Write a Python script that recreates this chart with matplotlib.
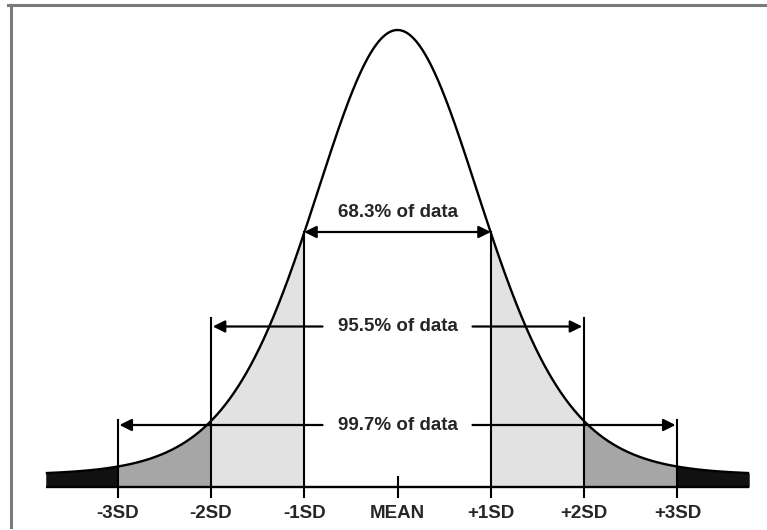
import numpy as np
import matplotlib
matplotlib.use("Agg")
import matplotlib.pyplot as plt
from matplotlib.lines import Line2D

# ---- data ----
sd_positions = [-3, -2, -1, 0, 1, 2, 3]
sd_labels = ["-3SD", "-2SD", "-1SD", "MEAN", "+1SD", "+2SD", "+3SD"]
range_widths = [1, 2, 3]
range_labels = ["68.3% of data", "95.5% of data", "99.7% of data"]
band_colors = ["white", "#e2e2e2", "#a6a6a6", "#111111"]

# curve shape (stylised bell curve)
NU, K, FLOOR = 10.0, 0.925, 0.026
X_END = 3.77


def bell(x):
    t = (1 + (x / K) ** 2 / NU) ** (-(NU + 1) / 2)
    return FLOOR + (1 - FLOOR) * t


W, H = 767, 530
fig = plt.figure(figsize=(W / 100, H / 100), dpi=100)
ax = fig.add_axes([0, 0, 1, 1])
# pixel geometry -> data limits
X0, SDPX = 397.5, 93.3
BASE, PEAK = 487, 30
UNIT = BASE - PEAK
ax.set_xlim((0 - X0) / SDPX, (W - X0) / SDPX)
ax.set_ylim(-(H - BASE) / UNIT, BASE / UNIT)
ax.axis("off")

# fills
bounds = [0, 1, 2, 3, X_END]
for i in range(4):
    for sgn in (-1, 1):
        a, b = sorted((sgn * bounds[i], sgn * bounds[i + 1]))
        xs = np.linspace(a, b, 200)
        ax.fill_between(xs, 0, bell(xs), color=band_colors[i], lw=0, zorder=1)

# curve
xs = np.linspace(-X_END, X_END, 1000)
ax.plot(xs, bell(xs), color="black", lw=1.7, zorder=4, solid_capstyle="butt")
# baseline
ax.plot([-X_END, X_END], [0, 0], color="black", lw=1.7, zorder=4, solid_capstyle="butt")

arrow_y = [(BASE - 232) / UNIT, (BASE - 326.5) / UNIT, (BASE - 425) / UNIT]
line_top = [(BASE - 232) / UNIT, (BASE - 318) / UNIT, (BASE - 420) / UNIT]
tick_bottom = -(497 - BASE) / UNIT

# vertical lines
for w, top in zip(range_widths, line_top):
    for sgn in (-1, 1):
        ax.plot([sgn * w, sgn * w], [tick_bottom, top], color="black", lw=1.5, zorder=5)
# mean tick
ax.plot([0, 0], [tick_bottom, (BASE - 477) / UNIT], color="black", lw=1.5, zorder=5)

# arrows and labels
gap = 75 / SDPX
arrow_kw = dict(arrowstyle="-|>", color="black", lw=1.6,
                mutation_scale=18, shrinkA=0, shrinkB=0)
font = dict(family="Liberation Sans", weight="bold", fontsize=13.5, color="#262626")
for i, (w, y, lab) in enumerate(zip(range_widths, arrow_y, range_labels)):
    if i == 0:
        ax.annotate("", xy=(-w, y), xytext=(w, y),
                    arrowprops=dict(arrowstyle="<|-|>", color="black", lw=1.6,
                                    mutation_scale=18, shrinkA=0, shrinkB=0), zorder=6)
        ax.text(0, (BASE - 213) / UNIT, lab, ha="center", va="center", **font, zorder=7)
    else:
        for sgn in (-1, 1):
            ax.annotate("", xy=(sgn * (w - 0.02), y), xytext=(sgn * gap, y),
                        arrowprops=arrow_kw, zorder=6)
        ax.text(0, y, lab, ha="center", va="center", **font, zorder=7)

# axis labels
for p, lab in zip(sd_positions, sd_labels):
    ax.text(p, -(514 - BASE) / UNIT, lab, ha="center", va="center", **font)

# frame (top and left border)
fig.add_artist(Line2D([8 / W, 1], [1 - 5 / H, 1 - 5 / H], color="#7a7a7a", lw=2.2))
fig.add_artist(Line2D([11 / W, 11 / W], [1 - 5 / H, 1 - 527 / H], color="#7a7a7a", lw=2.2))

fig.savefig("out.png", dpi=100)
